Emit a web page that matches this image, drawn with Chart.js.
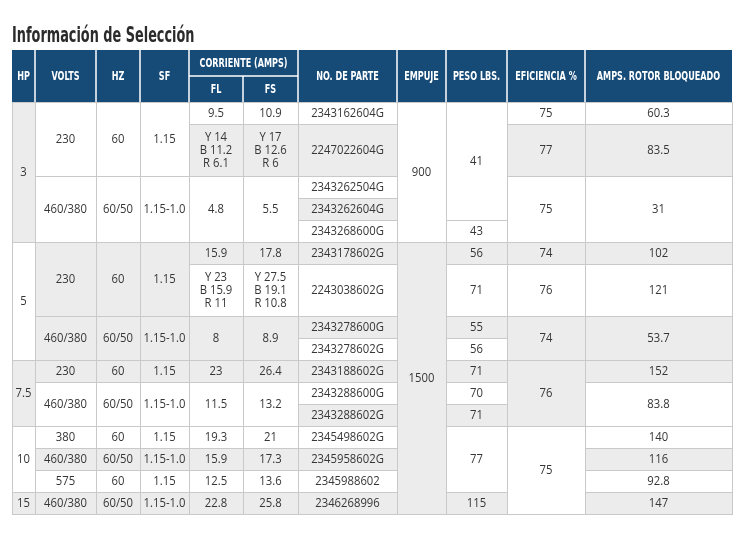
<!DOCTYPE html>
<html>
<head>
<meta charset="utf-8">
<script src="https://cdn.jsdelivr.net/npm/chart.js@4"></script>
<style>
html, body { margin: 0; padding: 0; background: #fff; }
#wrap { width: 743px; height: 559px; }
</style>
</head>
<body>
<div id="wrap"><canvas id="tablaSeleccion" width="743" height="559"></canvas></div>
<script>
// --- datos de la tabla ---
const titulo = 'Información de Selección';
const encabezados = ['HP', 'VOLTS', 'HZ', 'SF', 'FL', 'FS', 'NO. DE PARTE', 'EMPUJE', 'PESO LBS.', 'EFICIENCIA %', 'AMPS. ROTOR BLOQUEADO'];
const encabezadoCorriente = 'CORRIENTE (AMPS)';

const hp = [3, 5, 7.5, 10, 15];
const hpFilas = [5, 4, 3, 3, 1];

const volts = ['230', '460/380', '230', '460/380', '230', '460/380', '380', '460/380', '575', '460/380'];
const hz = ['60', '60/50', '60', '60/50', '60', '60/50', '60', '60/50', '60', '60/50'];
const sf = ['1.15', '1.15-1.0', '1.15', '1.15-1.0', '1.15', '1.15-1.0', '1.15', '1.15-1.0', '1.15', '1.15-1.0'];
const voltsFilas = [2, 3, 2, 2, 1, 2, 1, 1, 1, 1];

const fl = ['9.5', 'Y 14\nB 11.2\nR 6.1', '4.8', '15.9', 'Y 23\nB 15.9\nR 11', '8', '23', '11.5', '19.3', '15.9', '12.5', '22.8'];
const fs = ['10.9', 'Y 17\nB 12.6\nR 6', '5.5', '17.8', 'Y 27.5\nB 19.1\nR 10.8', '8.9', '26.4', '13.2', '21', '17.3', '13.6', '25.8'];
const corrienteFilas = [1, 1, 3, 1, 1, 2, 1, 2, 1, 1, 1, 1];

const noParte = ['2343162604G', '2247022604G', '2343262504G', '2343262604G', '2343268600G',
	'2343178602G', '2243038602G', '2343278600G', '2343278602G', '2343188602G', '2343288600G',
	'2343288602G', '2345498602G', '2345958602G', '2345988602', '2346268996'];

const empuje = [900, 1500];
const empujeFilas = [5, 11];

const peso = [41, 43, 56, 71, 55, 56, 71, 70, 71, 77, 115];
const pesoFilas = [4, 1, 1, 1, 1, 1, 1, 1, 1, 3, 1];

const eficiencia = [75, 77, 75, 74, 76, 74, 76, 75];
const eficienciaFilas = [1, 1, 3, 1, 1, 2, 3, 4];

const ampsRotor = [60.3, 83.5, 31, 102, 121, 53.7, 152, 83.8, 140, 116, 92.8, 147];
const ampsFilas = [1, 1, 3, 1, 1, 2, 1, 2, 1, 1, 1, 1];

// --- estilo y distribución (no son datos) ---
const bordesCol = [0, 23, 84, 128, 177, 231, 286, 385, 434, 495, 573, 720];
const altoEncabezado = 52;
const altoFilas = [22, 52, 22, 22, 22, 22, 52, 22, 22, 22, 22, 22, 22, 22, 22, 22];
const COLOR_ENC = '#164b78';
const COLOR_GRIS = '#ececec';
const COLOR_LINEA = '#c9c9c9';
const COLOR_TEXTO = '#363636';
const FUENTE_ENC = 'bold 12.5px "Liberation Sans Narrow", "DejaVu Sans Condensed", sans-serif';
const FUENTE_CUERPO = '12px "Open Sans", sans-serif';

// sombreado de cada celda (1 = gris)
const sombras = [
	[1, 0, 1, 0, 1],
	[0, 0, 1, 1, 1, 0, 0, 1, 0, 1],
	[0, 0, 1, 1, 1, 0, 0, 1, 0, 1],
	[0, 0, 1, 1, 1, 0, 0, 1, 0, 1],
	[0, 1, 0, 1, 0, 1, 1, 0, 0, 1, 0, 1],
	[0, 1, 0, 1, 0, 1, 1, 0, 0, 1, 0, 1],
	noParte.map((_, i) => i % 2),
	[0, 1],
	[0, 0, 1, 0, 1, 0, 1, 0, 1, 0, 1],
	[0, 1, 0, 1, 0, 1, 1, 0],
	[0, 1, 0, 1, 0, 1, 1, 0, 0, 1, 0, 1]
];

const columnas = [
	[hp, hpFilas],
	[volts, voltsFilas],
	[hz, voltsFilas],
	[sf, voltsFilas],
	[fl, corrienteFilas],
	[fs, corrienteFilas],
	[noParte, noParte.map(() => 1)],
	[empuje, empujeFilas],
	[peso, pesoFilas],
	[eficiencia, eficienciaFilas],
	[ampsRotor, ampsFilas]
];

function inicioFila(r) {
	let y = altoEncabezado;
	for (let i = 0; i < r; i++) y += altoFilas[i];
	return y;
}

function escribir(ctx, s, cx, cy, sx) {
	ctx.save();
	ctx.translate(cx, cy);
	ctx.scale(sx, 1);
	ctx.fillText(s, 0, 0);
	ctx.restore();
}

const alinear = v => Math.round(v) + 0.5;

const pluginTabla = {
	id: 'tabla',
	afterDraw(chart) {
		const ctx = chart.ctx;
		const sx = chart.scales.x, sy = chart.scales.y;
		const px = v => sx.getPixelForValue(v);
		const py = v => sy.getPixelForValue(v);

		// título
		ctx.save();
		ctx.fillStyle = '#2b2b2b';
		ctx.font = 'bold 22px "Liberation Sans Narrow", "DejaVu Sans Condensed", sans-serif';
		ctx.textAlign = 'left';
		ctx.textBaseline = 'alphabetic';
		escribir(ctx, titulo, chart.chartArea.left, 42, 0.65);
		ctx.restore();

		// celdas del cuerpo
		ctx.save();
		columnas.forEach(([valores, filas], c) => {
			let r = 0;
			valores.forEach((v, i) => {
				const x0 = px(bordesCol[c]), x1 = px(bordesCol[c + 1]);
				const y0 = py(inicioFila(r)), y1 = py(inicioFila(r + filas[i]));
				ctx.fillStyle = sombras[c][i] ? COLOR_GRIS : '#ffffff';
				ctx.fillRect(x0, y0, x1 - x0, y1 - y0);
				ctx.strokeStyle = COLOR_LINEA;
				ctx.lineWidth = 1;
				ctx.strokeRect(alinear(x0), alinear(y0), Math.round(x1) - Math.round(x0), Math.round(y1) - Math.round(y0));

				ctx.fillStyle = COLOR_TEXTO;
				ctx.font = FUENTE_CUERPO;
				ctx.textAlign = 'center';
				ctx.textBaseline = 'middle';
				const lineas = String(v).split('\n');
				const cx = (x0 + x1) / 2, cy = (y0 + y1) / 2 + 1;
				lineas.forEach((t, k) => {
					escribir(ctx, t, cx, cy + (k - (lineas.length - 1) / 2) * 13, 0.94);
				});
				r += filas[i];
			});
		});
		ctx.restore();

		// encabezado
		ctx.save();
		const hx0 = px(0), hx1 = px(720), hy0 = py(0), hy1 = py(altoEncabezado), hMid = py(altoEncabezado / 2);
		ctx.fillStyle = COLOR_ENC;
		ctx.fillRect(hx0, hy0, hx1 - hx0, hy1 - hy0);
		ctx.strokeStyle = '#ffffff';
		ctx.lineWidth = 1.5;
		ctx.beginPath();
		for (let c = 1; c < bordesCol.length - 1; c++) {
			const xx = px(bordesCol[c]);
			ctx.moveTo(xx, c === 5 ? hMid : hy0);
			ctx.lineTo(xx, hy1);
		}
		ctx.moveTo(px(bordesCol[4]), hMid);
		ctx.lineTo(px(bordesCol[6]), hMid);
		ctx.stroke();

		ctx.fillStyle = '#ffffff';
		ctx.font = FUENTE_ENC;
		ctx.textAlign = 'center';
		ctx.textBaseline = 'middle';
		encabezados.forEach((t, c) => {
			const cx = (px(bordesCol[c]) + px(bordesCol[c + 1])) / 2;
			const cy = (c === 4 || c === 5) ? (hMid + hy1) / 2 : (hy0 + hy1) / 2;
			escribir(ctx, t, cx, cy + 1, 0.72);
		});
		escribir(ctx, encabezadoCorriente, (px(bordesCol[4]) + px(bordesCol[6])) / 2, (hy0 + hMid) / 2 + 1, 0.72);
		ctx.restore();
	}
};

new Chart(document.getElementById('tablaSeleccion').getContext('2d'), {
	type: 'scatter',
	data: { datasets: [] },
	options: {
		responsive: false,
		animation: false,
		layout: { padding: { left: 12, right: 11, top: 50, bottom: 45 } },
		plugins: { legend: { display: false }, tooltip: { enabled: false } },
		scales: {
			x: { type: 'linear', min: 0, max: 720, display: false },
			y: { type: 'linear', min: 0, max: altoEncabezado + altoFilas.reduce((a, b) => a + b, 0), reverse: true, display: false }
		}
	},
	plugins: [pluginTabla]
});
</script>
</body>
</html>
